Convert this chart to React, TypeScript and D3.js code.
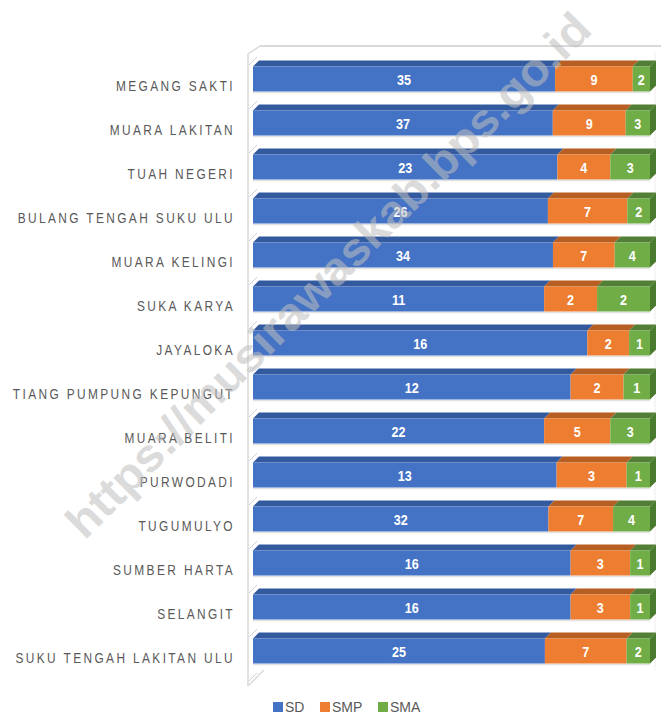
import React from 'react';
import * as d3 from 'd3';

const categories = [
  'MEGANG SAKTI',
  'MUARA LAKITAN',
  'TUAH NEGERI',
  'BULANG TENGAH SUKU ULU',
  'MUARA KELINGI',
  'SUKA KARYA',
  'JAYALOKA',
  'TIANG PUMPUNG KEPUNGUT',
  'MUARA BELITI',
  'PURWODADI',
  'TUGUMULYO',
  'SUMBER HARTA',
  'SELANGIT',
  'SUKU TENGAH LAKITAN ULU',
];
const sd = [35, 37, 23, 26, 34, 11, 16, 12, 22, 13, 32, 16, 16, 25];
const smp = [9, 9, 4, 7, 7, 2, 2, 2, 5, 3, 7, 3, 3, 7];
const sma = [2, 3, 3, 2, 4, 2, 1, 1, 3, 1, 4, 1, 1, 2];
const seriesNames = ['SD', 'SMP', 'SMA'];

const frontColors = ['#4472C4', '#ED7D31', '#70AD47'];
const topColors = ['#335A9E', '#B75E22', '#527F35'];
const sideColor = '#4A7A2E';

const W = 661;
const H = 717;
const DX = 6;
const DY = 6;
const BAR_H = 25;

export default function App() {
  const y = d3.scaleBand<string>().domain(categories).range([57, 673]);
  const x = d3.scaleLinear().domain([0, 1]).range([253, 650]);
  const rows = categories.map((c, i) => ({ cat: c, SD: sd[i], SMP: smp[i], SMA: sma[i] }));
  const layers = d3.stack<any>().keys(seriesNames).offset(d3.stackOffsetExpand)(rows);

  const bars: React.ReactNode[] = [];
  categories.forEach((c, i) => {
    const cy = (y(c) as number) + y.bandwidth() / 2;
    const yT = cy - BAR_H / 2;
    const yB = cy + BAR_H / 2;
    const segs: React.ReactNode[] = [];
    layers.forEach((layer, k) => {
      const [a, b] = layer[i];
      const x0 = x(a);
      const x1 = x(b);
      const top = `M${x0},${yT}L${x1},${yT}L${x1 + DX},${yT - DY}L${x0 + DX},${yT - DY}Z`;
      segs.push(
        <g key={k}>
          <path d={top} fill={topColors[k]} />
          <rect x={x0} y={yT} width={x1 - x0} height={BAR_H} fill={frontColors[k]} />
        </g>
      );
      if (k === layers.length - 1) {
        const side = `M${x1},${yT}L${x1 + DX},${yT - DY}L${x1 + DX},${yB - DY}L${x1},${yB}Z`;
        segs.push(<path key="side" d={side} fill={sideColor} />);
      }
    });
    const labels = layers.map((layer, k) => {
      const [a, b] = layer[i];
      const v = [sd, smp, sma][k][i];
      return (
        <g key={'l' + k} transform={`translate(${(x(a) + x(b)) / 2},${cy + 6}) scale(0.9,1)`}>
          <text
            x={0}
            y={0}
            textAnchor="middle"
            fill="#ffffff"
            fontWeight="bold"
            fontSize={14}
          >
            {v}
          </text>
        </g>
      );
    });
    bars.push(
      <g key={c}>
        <line x1={253} x2={650} y1={yB + 1} y2={yB + 1} stroke="#e3e3e3" strokeWidth={1.5} />
        {segs}
        {labels}
      </g>
    );
  });

  const ticks = d3.range(categories.length + 1).map((i) => {
    const b = 57 + i * y.bandwidth() + 8;
    return (
      <line key={i} x1={249} y1={b} x2={257} y2={b - 8} stroke="#cfcfcf" strokeWidth={1} />
    );
  });

  const legendItems = [
    { name: 'SD', sx: 273, tx: 285 },
    { name: 'SMP', sx: 320, tx: 332 },
    { name: 'SMA', sx: 378, tx: 390 },
  ];

  return (
    <svg
      width={W}
      height={H}
      style={{ position: 'absolute', left: 0, top: 0, background: '#fff' }}
      fontFamily="'Liberation Sans', Arial, sans-serif"
    >
      {/* back wall & side wall */}
      <line x1={260} y1={46} x2={661} y2={46} stroke="#d9d9d9" strokeWidth={2} />
      <line x1={248} y1={54} x2={260} y2={46} stroke="#d9d9d9" strokeWidth={1.5} />
      <line x1={248} y1={54} x2={248} y2={686} stroke="#d9d9d9" strokeWidth={1.5} />
      <line x1={248} y1={686} x2={264} y2={670} stroke="#d9d9d9" strokeWidth={1.5} />
      <line x1={655} y1={52} x2={655} y2={670} stroke="#eeeeee" strokeWidth={1} />
      {ticks}
      {bars}
      {categories.map((c) => (
        <g
          key={c}
          transform={`translate(${235},${(y(c) as number) + y.bandwidth() / 2 + 12}) scale(0.85,1)`}
        >
          <text x={0} y={0} textAnchor="end" fontSize={14} letterSpacing={2.8} fill="#595959">
            {c}
          </text>
        </g>
      ))}
      {legendItems.map((l, k) => (
        <g key={l.name}>
          <rect x={l.sx} y={702} width={10} height={10} fill={frontColors[k]} />
          <text x={l.tx} y={712} fontSize={14} fill="#595959">
            {l.name}
          </text>
        </g>
      ))}
      <text
        transform="translate(328,275) rotate(-45)"
        textAnchor="middle"
        dominantBaseline="central"
        fontSize={46}
        fontWeight="bold"
        fill="#bfbfbf"
        opacity={0.55}
        textLength={720}
        lengthAdjust="spacingAndGlyphs"
      >
        https://musirawaskab.bps.go.id
      </text>
    </svg>
  );
}
